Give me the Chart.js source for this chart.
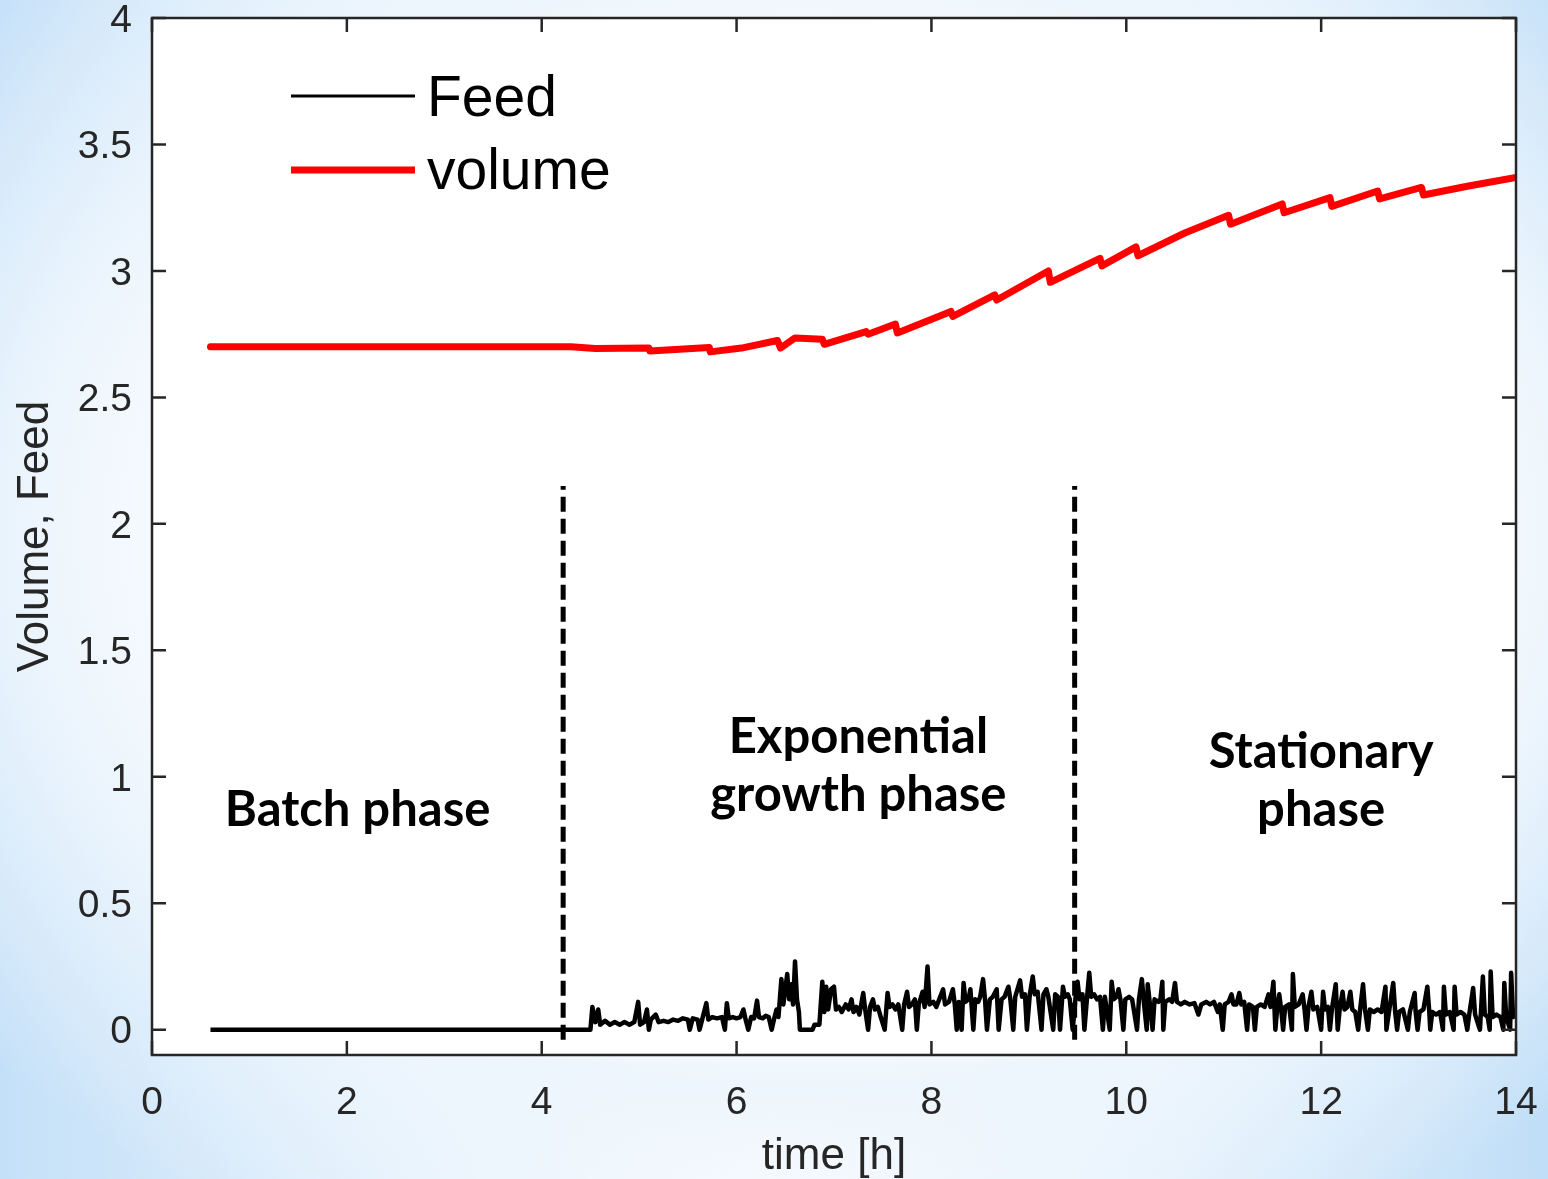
<!DOCTYPE html>
<html>
<head>
<meta charset="utf-8">
<script src="https://cdn.jsdelivr.net/npm/chart.js@4.4.1/dist/chart.umd.min.js"></script>
<style>
  html, body { margin: 0; padding: 0; }
  body {
    width: 1548px; height: 1179px; overflow: hidden;
    background:
      radial-gradient(ellipse 70% 68% at 52% 45%, #ffffff 45%, #eef6fd 70%, rgba(238,246,253,0) 100%),
      linear-gradient(90deg, #c4e0f8 0%, #e4f1fc 25%, #ffffff 50%, #e4f1fc 75%, #c0def7 100%);
  }
  #wrap { width: 1548px; height: 1179px; position: relative; }
</style>
</head>
<body>
<div id="wrap"><canvas id="chart"></canvas></div>
<script>
// axis ticks
const xTicks = [0, 2, 4, 6, 8, 10, 12, 14];
const yTicks = [0, 0.5, 1, 1.5, 2, 2.5, 3, 3.5, 4];

// volume (red), sawtooth drops at each sampling
const volTime = [0.6, 4.3, 4.55, 5.1, 5.11, 5.72, 5.73, 6.05, 6.42, 6.45, 6.6, 6.88, 6.9, 7.33, 7.35, 7.63, 7.65, 8.2, 8.22,
  8.65, 8.67, 9.2, 9.22, 9.73, 9.75, 10.1, 10.12, 10.6, 11.05, 11.07, 11.6, 11.62, 12.09, 12.11, 12.58, 12.6, 13.03, 13.05, 13.5, 14];
const volValue = [2.70, 2.70, 2.693, 2.695, 2.683, 2.697, 2.68, 2.695, 2.725, 2.695, 2.735, 2.73, 2.71, 2.76, 2.75, 2.79, 2.755, 2.84, 2.82,
  2.905, 2.885, 3.0, 2.955, 3.05, 3.02, 3.095, 3.06, 3.15, 3.22, 3.185, 3.265, 3.23, 3.29, 3.255, 3.316, 3.285, 3.33, 3.30, 3.335, 3.37];

// feed (black) [time, value]
const feedPoints = [
  [0.6,0],[4.5,0],[4.52,0.09],[4.55,0.03],[4.58,0.08],[4.6,0.02],[4.65,0.035],[4.7,0.02],[4.75,0.03],[4.8,0.02],
  [4.85,0.03],[4.9,0.02],[4.95,0.03],[4.99,0.11],[5.01,0.02],[5.05,0.03],[5.08,0.08],[5.1,0],[5.12,0.04],[5.17,0.06],
  [5.2,0.03],[5.25,0.035],[5.3,0.03],[5.35,0.04],[5.4,0.035],[5.45,0.045],[5.5,0.04],[5.52,0],[5.55,0.045],[5.6,0.04],
  [5.62,0],[5.65,0.045],[5.69,0.105],[5.71,0.04],[5.75,0.05],[5.8,0.045],[5.85,0.05],[5.88,0],[5.9,0.105],[5.92,0.045],
  [5.96,0.05],[6.0,0.045],[6.04,0.05],[6.07,0.08],[6.09,0.045],[6.12,0],[6.15,0.05],[6.18,0.045],[6.21,0.115],[6.23,0.05],
  [6.27,0.045],[6.3,0.055],[6.33,0.05],[6.36,0],[6.39,0.05],[6.41,0.08],[6.43,0.05],[6.46,0.2],[6.48,0.1],[6.5,0.16],
  [6.52,0.22],[6.54,0.12],[6.56,0.18],[6.58,0.1],[6.6,0.27],[6.62,0.12],[6.64,0.07],[6.65,0],[6.78,0],[6.8,0.02],
  [6.85,0.02],[6.88,0.19],[6.9,0.07],[6.92,0.17],[6.94,0.08],[6.97,0.16],[7.0,0.17],[7.02,0.08],[7.05,0.09],[7.08,0.07],
  [7.12,0.1],[7.15,0.08],[7.18,0.12],[7.2,0.07],[7.23,0.09],[7.26,0.06],[7.3,0.145],[7.32,0.08],[7.35,0],[7.37,0.09],
  [7.4,0.12],[7.42,0.08],[7.45,0.09],[7.48,0.05],[7.52,0],[7.55,0.145],[7.57,0.09],[7.6,0.1],[7.63,0.08],[7.66,0.1],
  [7.7,0],[7.72,0.1],[7.75,0.15],[7.77,0.09],[7.8,0.1],[7.83,0.12],[7.85,0],[7.87,0.1],[7.91,0.15],[7.93,0.09],
  [7.96,0.25],[7.98,0.1],[8.02,0.11],[8.05,0.09],[8.08,0.12],[8.12,0.16],[8.14,0.1],[8.18,0.11],[8.22,0.16],[8.24,0.1],
  [8.26,0],[8.28,0.11],[8.31,0],[8.33,0.185],[8.35,0.11],[8.38,0.12],[8.4,0.16],[8.43,0],[8.45,0.12],[8.48,0.11],
  [8.5,0.13],[8.53,0.2],[8.55,0.12],[8.57,0],[8.6,0.12],[8.63,0.13],[8.67,0.16],[8.69,0],[8.72,0.12],[8.75,0.13],
  [8.79,0.17],[8.81,0.12],[8.84,0],[8.86,0.13],[8.91,0.195],[8.93,0.13],[8.96,0.14],[8.98,0],[9.01,0.14],[9.04,0.21],
  [9.06,0.14],[9.09,0.15],[9.13,0],[9.15,0.14],[9.18,0.16],[9.2,0.13],[9.25,0],[9.27,0.14],[9.3,0.13],[9.32,0],
  [9.35,0.17],[9.37,0.13],[9.4,0.14],[9.42,0.12],[9.45,0],[9.48,0.13],[9.5,0.19],[9.52,0.12],[9.55,0.14],[9.57,0],
  [9.6,0.14],[9.62,0.225],[9.64,0.13],[9.67,0.14],[9.7,0.12],[9.73,0.13],[9.76,0],[9.78,0.13],[9.83,0],[9.85,0.19],
  [9.87,0.12],[9.9,0.13],[9.92,0.16],[9.94,0.12],[9.97,0],[9.99,0.12],[10.03,0.13],[10.06,0.12],[10.11,0],[10.13,0.12],
  [10.16,0.2],[10.18,0.11],[10.21,0],[10.22,0.18],[10.24,0.11],[10.27,0],[10.29,0.12],[10.33,0.11],[10.35,0.12],[10.37,0.19],
  [10.38,0],[10.4,0.11],[10.44,0.12],[10.47,0.11],[10.5,0.185],[10.52,0.11],[10.56,0.1],[10.6,0.11],[10.65,0.1],[10.7,0.105],
  [10.74,0.06],[10.77,0.1],[10.82,0.11],[10.86,0.1],[10.9,0.11],[10.94,0.07],[10.96,0.1],[10.99,0],[11.01,0.1],[11.05,0.11],
  [11.08,0.14],[11.1,0.1],[11.13,0.1],[11.16,0.145],[11.18,0.1],[11.21,0.11],[11.24,0],[11.26,0.1],[11.3,0.09],[11.32,0],
  [11.34,0.09],[11.38,0.1],[11.42,0.09],[11.46,0.14],[11.48,0.09],[11.51,0.19],[11.53,0],[11.55,0.09],[11.57,0.14],[11.59,0.08],
  [11.61,0],[11.63,0.09],[11.67,0.1],[11.7,0],[11.71,0.22],[11.73,0.09],[11.77,0.1],[11.81,0.14],[11.83,0.08],[11.85,0],
  [11.87,0.09],[11.9,0.15],[11.92,0.08],[11.96,0.09],[12.0,0],[12.02,0.15],[12.04,0.08],[12.07,0.09],[12.09,0],[12.11,0.08],
  [12.15,0.18],[12.17,0],[12.19,0.08],[12.22,0.15],[12.24,0.08],[12.27,0.09],[12.3,0.15],[12.32,0.08],[12.35,0.07],[12.38,0],
  [12.4,0.08],[12.43,0.18],[12.45,0.08],[12.48,0],[12.5,0.08],[12.54,0.07],[12.58,0.08],[12.62,0.07],[12.66,0.17],[12.67,0],
  [12.7,0.08],[12.74,0.185],[12.76,0.07],[12.78,0],[12.8,0.07],[12.84,0.08],[12.89,0],[12.91,0.07],[12.96,0.145],[12.97,0.07],
  [12.99,0],[13.01,0.07],[13.05,0.08],[13.09,0.17],[13.11,0.07],[13.12,0],[13.14,0.07],[13.18,0.06],[13.22,0.07],[13.25,0],
  [13.26,0.17],[13.28,0.06],[13.32,0.07],[13.36,0],[13.37,0.17],[13.39,0.06],[13.43,0.07],[13.47,0.06],[13.5,0],[13.52,0.06],
  [13.56,0.165],[13.58,0.06],[13.63,0],[13.66,0.21],[13.68,0.06],[13.71,0.05],[13.73,0],[13.74,0.23],[13.76,0.05],[13.8,0.06],
  [13.84,0.05],[13.87,0],[13.88,0.185],[13.9,0.05],[13.94,0],[13.95,0.225],[13.97,0.05],[14.0,0.06]
];

// phase boundaries (dashed)
const phaseTimes = [4.22, 9.47];
const phaseSpan = [-0.04, 2.15];

// phase text: [lines, time centre, baseline values]
const phaseLabels = [
  [['Batch phase'], 2.11, [0.806]],
  [['Exponential', 'growth phase'], 7.25, [1.095, 0.866]],
  [['Stationary', 'phase'], 12.0, [1.036, 0.806]]
];

const INK = '#262626';
const SANS = "'Liberation Sans', Arial, sans-serif";

const volume = volTime.map((t, i) => ({ x: t, y: volValue[i] }));
const feed = feedPoints.map(p => ({ x: p[0], y: p[1] }));

const datasets = [
  { label: 'Feed', data: feed, borderColor: '#000', borderWidth: 4.5, pointRadius: 0, tension: 0, order: 2,
    borderJoinStyle: 'round' },
  { label: 'volume', data: volume, borderColor: '#ff0000', borderWidth: 7, pointRadius: 0, tension: 0, order: 1,
    borderJoinStyle: 'round', borderCapStyle: 'round' }
];
phaseTimes.forEach(t => {
  datasets.push({ label: '_phase', data: phaseSpan.map(v => ({ x: t, y: v })), borderColor: '#000', borderWidth: 5,
    borderDash: [15, 7], pointRadius: 0, order: 3 });
});

const framePlugin = {
  id: 'frame',
  beforeDraw(chart) {
    const { ctx, chartArea: a } = chart;
    ctx.save();
    ctx.fillStyle = '#fff';
    ctx.fillRect(a.left, a.top, a.right - a.left, a.bottom - a.top);
    ctx.restore();
  },
  afterDraw(chart) {
    const { ctx, chartArea: a, scales } = chart;
    ctx.save();
    ctx.strokeStyle = INK;
    ctx.lineWidth = 2.5;
    ctx.strokeRect(a.left, a.top, a.right - a.left, a.bottom - a.top);
    const tl = 14;
    ctx.beginPath();
    xTicks.forEach(v => {
      const px = scales.x.getPixelForValue(v);
      ctx.moveTo(px, a.bottom); ctx.lineTo(px, a.bottom - tl);
      ctx.moveTo(px, a.top); ctx.lineTo(px, a.top + tl);
    });
    yTicks.forEach(v => {
      const py = scales.y.getPixelForValue(v);
      ctx.moveTo(a.left, py); ctx.lineTo(a.left + tl, py);
      ctx.moveTo(a.right, py); ctx.lineTo(a.right - tl, py);
    });
    ctx.stroke();

    // legend
    const lx = a.left + 139, lw = 124;
    const rows = [[datasets[0], 96, 100, 3], [datasets[1], 170, 173, 7]];
    rows.forEach(([ds, ly, ty, w]) => {
      ctx.strokeStyle = ds.borderColor;
      ctx.lineWidth = w;
      ctx.beginPath(); ctx.moveTo(lx, ly); ctx.lineTo(lx + lw, ly); ctx.stroke();
      ctx.fillStyle = '#000';
      ctx.font = '57px ' + SANS;
      ctx.textBaseline = 'middle';
      ctx.textAlign = 'left';
      ctx.fillText(ds.label, lx + lw + 12, ty);
    });

    // phase labels
    ctx.font = "bold 49px Lato, 'Open Sans', sans-serif";
    ctx.textAlign = 'center';
    ctx.textBaseline = 'alphabetic';
    ctx.fillStyle = '#000';
    phaseLabels.forEach(([lines, t, ys]) => {
      lines.forEach((txt, i) => {
        ctx.fillText(txt, scales.x.getPixelForValue(t), scales.y.getPixelForValue(ys[i]));
      });
    });
    ctx.restore();
  }
};

new Chart(document.getElementById('chart'), {
  type: 'line',
  data: { datasets },
  options: {
    responsive: true,
    maintainAspectRatio: false,
    animation: false,
    events: [],
    layout: { padding: { top: 18, right: 32, left: 0, bottom: 0 } },
    plugins: { legend: { display: false }, tooltip: { enabled: false } },
    scales: {
      x: {
        type: 'linear', min: 0, max: 14,
        afterBuildTicks: s => { s.ticks = xTicks.map(v => ({ value: v })); },
        afterFit: s => { s.height = 124; s.paddingLeft = 0; s.paddingRight = 0; },
        grid: { display: false, drawTicks: false },
        border: { display: false },
        ticks: { color: INK, font: { family: SANS, size: 39 }, padding: 25, maxRotation: 0, autoSkip: false,
          callback: v => String(v) },
        title: { display: true, text: 'time [h]', color: INK, font: { family: SANS, size: 44, lineHeight: 1 },
          padding: { top: 0, bottom: 0 } }
      },
      y: {
        type: 'linear', min: -0.1, max: 4,
        afterBuildTicks: s => { s.ticks = yTicks.map(v => ({ value: v })); },
        afterFit: s => { s.width = 152; s.paddingTop = 0; s.paddingBottom = 0; },
        grid: { display: false, drawTicks: false },
        border: { display: false },
        ticks: { color: INK, font: { family: SANS, size: 39 }, padding: 20, labelOffset: 3, callback: v => String(v) },
        title: { display: true, text: 'Volume, Feed', color: INK, font: { family: SANS, size: 44, lineHeight: 1 },
          padding: { top: 14, bottom: 0 } }
      }
    }
  },
  plugins: [framePlugin]
});
</script>
</body>
</html>
